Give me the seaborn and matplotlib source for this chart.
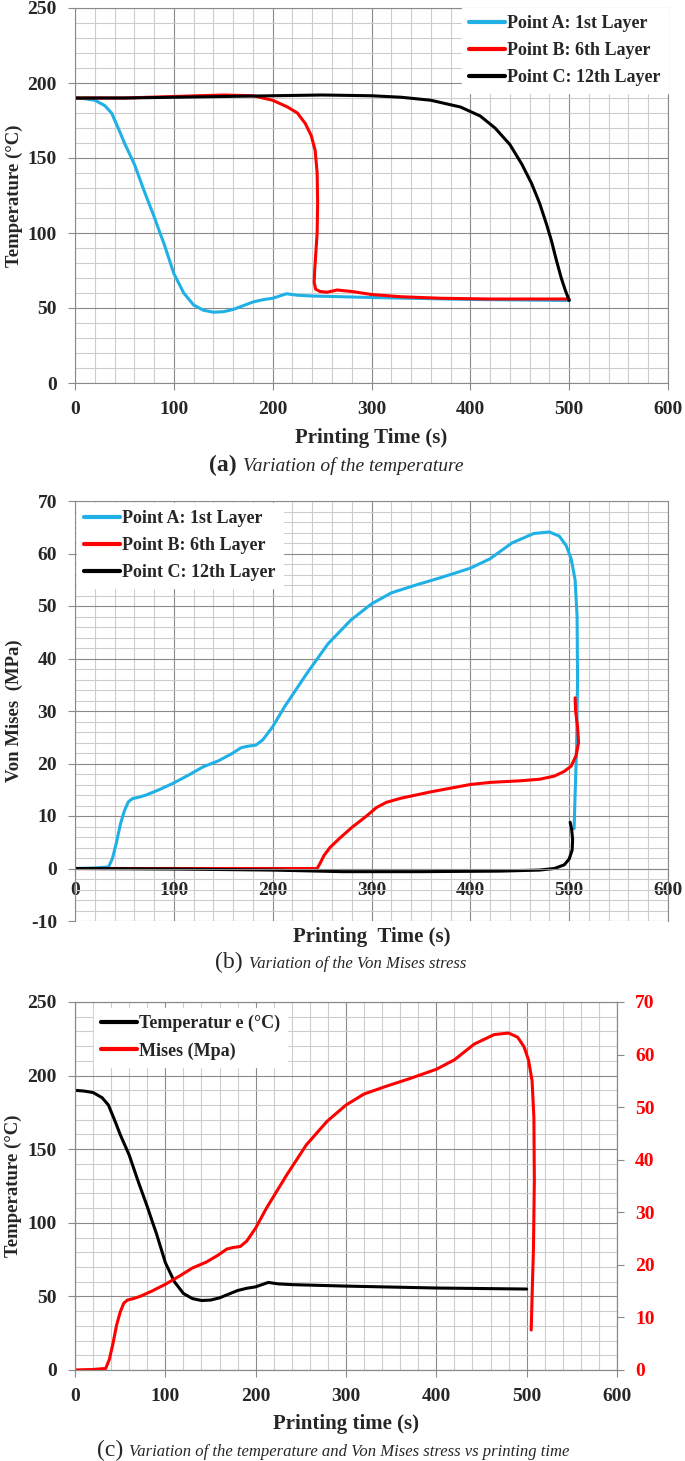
import matplotlib
matplotlib.use("Agg")
import matplotlib.pyplot as plt
import seaborn as sns
from matplotlib.ticker import MultipleLocator

# ---- data ----
# (a) temperature, printing time in s, temperature in deg C
temp_a_t = [0, 10, 20, 30, 37, 45, 50, 55, 60, 70, 80, 86, 90, 100, 110, 120, 130, 140, 150,
            160, 170, 180, 190, 200, 207, 214, 225, 240, 300, 400, 500]
temp_a = [190, 189.5, 188.5, 185, 180, 168, 160, 153, 146, 128, 111, 100, 93, 73, 60, 52, 48.5,
          47.2, 47.5, 49, 51.5, 54, 55.5, 56.5, 58, 59.5, 58.5, 58, 57, 55.7, 55]

temp_b_t = [0, 50, 100, 150, 180, 200, 215, 225, 233, 239, 243, 245, 245.5, 245, 243.5, 242.5,
            242, 243.5, 248, 255, 265, 280, 300, 330, 370, 420, 500]
temp_b = [190, 190, 191, 192, 191.5, 188.5, 184, 180, 173, 165, 155, 140, 120, 100, 85, 75,
          67, 62.5, 61, 60.5, 62, 61, 59, 57.5, 56.5, 56, 56]

temp_c_t = [0, 50, 100, 150, 200, 250, 300, 330, 360, 390, 410, 425, 440, 452, 462, 470, 477,
            482, 487, 492, 496, 500]
temp_c = [190, 190, 190.5, 191, 191.5, 192, 191.5, 190.5, 188.5, 184, 178, 170, 159, 146, 133,
          120, 106, 95, 82, 70, 62, 55]

# (b) Von Mises stress, MPa
mises_a_t = [0, 20, 34, 38, 42, 46, 50, 54, 58, 65, 72, 85, 100, 115, 130, 145, 158, 168, 175,
             183, 190, 200, 212, 234, 256, 279, 300, 320, 345, 370, 400, 420, 442, 464, 480,
             490, 497, 502, 506, 508, 508.5, 507.5, 506, 505]
mises_a = [0, 0.1, 0.3, 2, 5, 8.5, 11, 12.7, 13.3, 13.6, 14, 15, 16.3, 17.8, 19.4, 20.5, 21.8,
           23, 23.3, 23.5, 24.5, 27, 30.8, 37, 42.8, 47.3, 50.4, 52.5, 54, 55.4, 57.2, 59, 62,
           63.8, 64.1, 63.3, 61.5, 59, 55, 48, 36, 23, 14, 7.6]

mises_b_t = [0, 100, 200, 245, 248, 252, 258, 268, 280, 295, 305, 315, 330, 360, 400, 420, 450,
             470, 485, 495, 502, 507, 509.5, 508.5, 506.5, 506]
mises_b = [0, 0, 0, 0, 1, 2.5, 4, 5.8, 7.8, 10, 11.6, 12.6, 13.4, 14.6, 16, 16.4, 16.7, 17,
           17.6, 18.5, 19.5, 21.5, 24, 27, 30, 32.5]

mises_c_t = [0, 100, 200, 270, 350, 430, 470, 485, 495, 500, 503, 503.5, 502.5, 501]
mises_c = [0, -0.1, -0.3, -0.6, -0.6, -0.5, -0.3, 0, 0.7, 1.8, 3.5, 5.5, 7.5, 8.8]

layer_labels = ["Point A: 1st Layer", "Point B: 6th Layer", "Point C: 12th Layer"]
combo_labels = ["Temperatur e (°C)", "Mises (Mpa)"]

CYAN = "#1fb0e6"
RED = "#ff0000"
BLACK = "#000000"

sns.set_style("whitegrid")
plt.rcParams['font.family'] = ['Liberation Serif', 'DejaVu Serif']
plt.rcParams['font.weight'] = 'bold'
plt.rcParams['axes.labelweight'] = 'bold'
plt.rcParams['axes.unicode_minus'] = False

W, H = 685, 1461
fig = plt.figure(figsize=(W / 100, H / 100), dpi=100)


def box(l, t, r, b):
    return [l / W, 1 - b / H, (r - l) / W, (b - t) / H]


def style(ax, ymaj, ymin_):
    ax.set_xlim(0, 600)
    ax.xaxis.set_major_locator(MultipleLocator(100))
    ax.xaxis.set_minor_locator(MultipleLocator(20))
    ax.yaxis.set_major_locator(MultipleLocator(ymaj))
    ax.yaxis.set_minor_locator(MultipleLocator(ymin_))
    ax.grid(which='major', color='#8a8a8a', lw=0.8)
    ax.grid(which='minor', color='#cdcdcd', lw=0.8)
    ax.set_axisbelow(True)
    for s in ax.spines.values():
        s.set_color('#8a8a8a')
        s.set_linewidth(0.8)
    ax.tick_params(which='major', left=True, bottom=True, length=5, color='#8a8a8a',
                   labelsize=14, pad=8)
    ax.tick_params(which='minor', length=0)


def line(ax, x, y, color, label):
    sns.lineplot(x=x, y=y, sort=False, estimator=None, color=color, lw=2.2, label=label, ax=ax)


def legend(ax, handles=None, labels=None, **kw):
    leg = ax.legend(handles=handles, labels=labels, fontsize=13, frameon=True, fancybox=False,
                    edgecolor='white', facecolor='white', framealpha=1, handlelength=2.0,
                    handletextpad=0.1, labelspacing=0.55, **kw)
    for h in leg.get_lines():
        h.set_linewidth(3)
    return leg


# ---- (a) ----
ax1 = fig.add_axes(box(75, 8, 668, 383))
line(ax1, temp_a_t, temp_a, CYAN, layer_labels[0])
line(ax1, temp_b_t, temp_b, RED, layer_labels[1])
line(ax1, temp_c_t, temp_c, BLACK, layer_labels[2])
style(ax1, 50, 10)
ax1.set_ylim(0, 250)
ax1.set_xlabel("Printing Time (s)", fontsize=15)
ax1.set_ylabel("Temperature (°C)", fontsize=13.5)
ax1.xaxis.set_label_coords(0.5, -0.12)
ax1.yaxis.set_label_coords(-0.088, 0.5)
legend(ax1, loc='upper right', borderaxespad=0)

# ---- (b) ----
ax2 = fig.add_axes(box(75, 501, 668, 921))
line(ax2, mises_a_t, mises_a, CYAN, layer_labels[0])
line(ax2, mises_b_t, mises_b, RED, layer_labels[1])
line(ax2, mises_c_t, mises_c, BLACK, layer_labels[2])
style(ax2, 10, 2)
ax2.set_ylim(-10, 70)
ax2.spines['bottom'].set_position(('data', 0))
ax2.tick_params(axis='x', pad=5)
ax2.set_xlabel("Printing  Time (s)", fontsize=15)
ax2.set_ylabel("Von Mises  (MPa)", fontsize=13.5)
ax2.xaxis.set_label_coords(0.5, -0.014)
ax2.yaxis.set_label_coords(-0.088, 0.5)
legend(ax2, loc='upper left', borderaxespad=0.1)

# ---- (c) ----
ax3 = fig.add_axes(box(75, 1002, 617, 1370))
line(ax3, temp_a_t, temp_a, BLACK, combo_labels[0])
style(ax3, 50, 10)
ax3.set_ylim(0, 250)
ax3.set_xlabel("Printing time (s)", fontsize=15)
ax3.set_ylabel("Temperature (°C)", fontsize=13.5)
ax3.xaxis.set_label_coords(0.5, -0.12)
ax3.yaxis.set_label_coords(-0.098, 0.5)
ax3r = ax3.twinx()
line(ax3r, mises_a_t, mises_a, RED, combo_labels[1])
ax3r.set_ylim(0, 70)
ax3r.yaxis.set_major_locator(MultipleLocator(10))
ax3r.grid(False)
ax3r.tick_params(axis='y', right=True, length=5, color='#8a8a8a', labelsize=14,
                 labelcolor=RED, pad=8)
for s in ax3r.spines.values():
    s.set_color('#8a8a8a')
    s.set_linewidth(0.8)
ax3r.set_ylabel("")
h1, l1 = ax3.get_legend_handles_labels()
h2, l2 = ax3r.get_legend_handles_labels()
ax3.get_legend().remove()
legend(ax3r, handles=h1 + h2, labels=l1 + l2, loc='upper left',
       bbox_to_anchor=(0.035, 0.984), borderaxespad=0)

# ---- captions ----
def caption(letter, rest, x_end, x_start, y_base, letter_weight, size):
    fig.text(x_end / W, 1 - y_base / H, letter, ha='right', va='baseline', fontsize=17,
             fontweight=letter_weight)
    fig.text(x_start / W, 1 - y_base / H, rest, ha='left', va='baseline', fontsize=size,
             fontweight='normal', style='italic')


caption("(a)", "Variation of the temperature", 237, 243, 471, 'bold', 14)
caption("(b)", "Variation of the Von Mises stress", 243, 249, 968, 'normal', 12)
caption("(c)", "Variation of the temperature and Von Mises stress vs printing time",
        123, 129, 1456, 'normal', 12)

fig.savefig("out.png", dpi=100)
